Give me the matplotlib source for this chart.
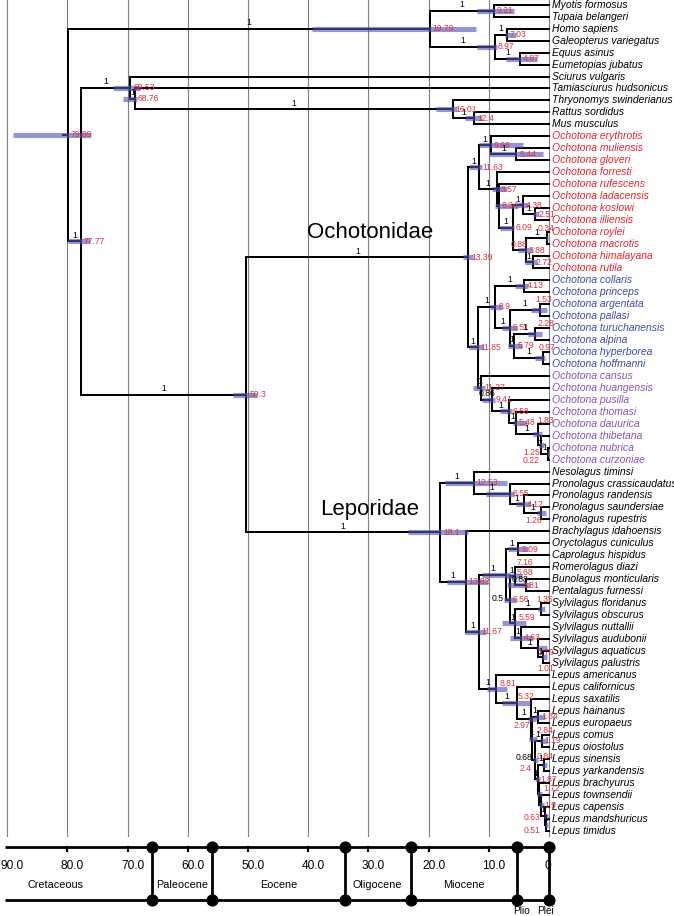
import matplotlib
matplotlib.use("Agg")
import matplotlib.pyplot as plt

plt.rcParams['font.family'] = ['Liberation Sans', 'DejaVu Sans']

# ---------------- data ----------------
tip_names = [
    "Myotis formosus", "Tupaia belangeri", "Homo sapiens", "Galeopterus variegatus",
    "Equus asinus", "Eumetopias jubatus", "Sciurus vulgaris", "Tamiasciurus hudsonicus",
    "Thryonomys swinderianus", "Rattus sordidus", "Mus musculus",
    "Ochotona erythrotis", "Ochotona muliensis", "Ochotona gloveri", "Ochotona forresti",
    "Ochotona rufescens", "Ochotona ladacensis", "Ochotona koslowi", "Ochotona illiensis",
    "Ochotona roylei", "Ochotona macrotis", "Ochotona himalayana", "Ochotona rutila",
    "Ochotona collaris", "Ochotona princeps", "Ochotona argentata", "Ochotona pallasi",
    "Ochotona turuchanensis", "Ochotona alpina", "Ochotona hyperborea", "Ochotona hoffmanni",
    "Ochotona cansus", "Ochotona huangensis", "Ochotona pusilla", "Ochotona thomasi",
    "Ochotona dauurica", "Ochotona thibetana", "Ochotona nubrica", "Ochotona curzoniae",
    "Nesolagus timinsi", "Pronolagus crassicaudatus", "Pronolagus randensis",
    "Pronolagus saundersiae", "Pronolagus rupestris", "Brachylagus idahoensis",
    "Oryctolagus cuniculus", "Caprolagus hispidus", "Romerolagus diazi",
    "Bunolagus monticularis", "Pentalagus furnessi", "Sylvilagus floridanus",
    "Sylvilagus obscurus", "Sylvilagus nuttallii", "Sylvilagus audubonii",
    "Sylvilagus aquaticus", "Sylvilagus palustris", "Lepus americanus",
    "Lepus californicus", "Lepus saxatilis", "Lepus hainanus", "Lepus europaeus",
    "Lepus comus", "Lepus oiostolus", "Lepus sinensis", "Lepus yarkandensis",
    "Lepus brachyurus", "Lepus townsendii", "Lepus capensis", "Lepus mandshuricus",
    "Lepus timidus",
]
tip_clade = ["out"] * 11 + ["red"] * 12 + ["blue"] * 8 + ["purple"] * 8 + ["lep"] * 31
clade_colors = {"out": "black", "red": "#e8252d", "blue": "#3d4ea6",
                "purple": "#8854b4", "lep": "black"}

node_names = ["root", "A", "C", "D", "E", "F", "B", "G", "H", "I", "J",
              "L", "Och", "K1", "M1", "M3", "M2", "M4", "M5", "M6", "M8", "M7", "M9", "M10",
              "K2", "N1", "N3", "N4", "N11", "N12", "N13", "N14",
              "N2", "N5", "N6", "N7", "N8", "N9", "N10",
              "Lep", "P1", "P3", "P4", "P5", "P2", "Q1", "Q2", "O509", "Z", "O568", "O381",
              "S559", "S135", "S463", "S179", "S101",
              "Q3", "Q4", "Q5", "Q6", "L184", "Q7", "L119", "Q8", "L084", "Q9", "Q10",
              "L063", "L051"]
node_children = [
    ["A", "B"], ["C", "D"], ["Myotis formosus", "Tupaia belangeri"], ["E", "F"],
    ["Homo sapiens", "Galeopterus variegatus"], ["Equus asinus", "Eumetopias jubatus"],
    ["G", "L"], ["Sciurus vulgaris", "H"], ["Tamiasciurus hudsonicus", "I"],
    ["Thryonomys swinderianus", "J"], ["Rattus sordidus", "Mus musculus"],
    ["Och", "Lep"], ["K1", "K2"], ["M1", "M2"], ["Ochotona erythrotis", "M3"],
    ["Ochotona muliensis", "Ochotona gloveri"], ["Ochotona forresti", "M4"],
    ["Ochotona rufescens", "M5"], ["M6", "M7"], ["Ochotona ladacensis", "M8"],
    ["Ochotona koslowi", "Ochotona illiensis"], ["M9", "M10"],
    ["Ochotona roylei", "Ochotona macrotis"], ["Ochotona himalayana", "Ochotona rutila"],
    ["N1", "N2"], ["N3", "N4"], ["Ochotona collaris", "Ochotona princeps"], ["N11", "N12"],
    ["Ochotona argentata", "Ochotona pallasi"], ["N13", "N14"],
    ["Ochotona turuchanensis", "Ochotona alpina"], ["Ochotona hyperborea", "Ochotona hoffmanni"],
    ["Ochotona cansus", "N5"], ["Ochotona huangensis", "N6"], ["Ochotona pusilla", "N7"],
    ["Ochotona thomasi", "N8"], ["Ochotona dauurica", "N9"], ["Ochotona thibetana", "N10"],
    ["Ochotona nubrica", "Ochotona curzoniae"],
    ["P1", "P2"], ["Nesolagus timinsi", "P3"], ["Pronolagus crassicaudatus", "P4"],
    ["Pronolagus randensis", "P5"], ["Pronolagus saundersiae", "Pronolagus rupestris"],
    ["Brachylagus idahoensis", "Q1"], ["Q2", "Q3"], ["O509", "Z"],
    ["Oryctolagus cuniculus", "Caprolagus hispidus"], ["O568", "S559"],
    ["Romerolagus diazi", "O381"], ["Bunolagus monticularis", "Pentalagus furnessi"],
    ["S135", "S463"], ["Sylvilagus floridanus", "Sylvilagus obscurus"],
    ["Sylvilagus nuttallii", "S179"], ["Sylvilagus audubonii", "S101"],
    ["Sylvilagus aquaticus", "Sylvilagus palustris"],
    ["Lepus americanus", "Q4"], ["Lepus californicus", "Q5"], ["Lepus saxatilis", "Q6"],
    ["L184", "Q7"], ["Lepus hainanus", "Lepus europaeus"], ["L119", "Q8"],
    ["Lepus comus", "Lepus oiostolus"], ["L084", "Q9"],
    ["Lepus sinensis", "Lepus yarkandensis"], ["Lepus brachyurus", "Q10"],
    ["Lepus townsendii", "L063"], ["Lepus capensis", "L051"],
    ["Lepus mandshuricus", "Lepus timidus"],
]
node_ages = [79.89, 19.79, 9.21, 8.97, 7.03, 4.87, 77.77, 69.53, 68.76, 16.01, 12.4,
             50.3, 13.39, 11.63, 9.68, 5.44, 8.57, 8.34, 6.0, 4.38, 2.3, 3.88, 0.34, 2.72,
             11.85, 8.9, 4.13, 6.51, 1.53, 5.79, 2.28, 0.97,
             11.27, 9.41, 6.58, 5.48, 1.83, 1.25, 0.22,
             18.1, 12.53, 6.55, 4.12, 1.26, 13.82, 11.67, 7.16, 5.09, 6.56, 5.68, 3.81,
             5.59, 1.35, 4.63, 1.79, 1.01,
             8.81, 5.32, 2.97, 2.84, 1.84, 2.4, 1.19, 1.87, 0.84, 1.72, 1.3, 0.63, 0.51]
node_labels = ["79.89", "19.79", "9.21", "8.97", "7.03", "4.87", "77.77", "69.53", "68.76",
               "16.01", "12.4", "50.3", "13.39", "11.63", "9.68", "5.44", "8.57", "8.34",
               "6.09", "4.38", "2.51", "3.88", "0.34", "2.72",
               "11.85", "8.9", "4.13", "6.51", "1.53", "5.79", "2.28", "0.97",
               "11.27", "9.41", "6.58", "5.48", "1.83", "1.25", "0.22",
               "18.1", "12.53", "6.55", "4.12", "1.26", "13.82", "11.67", "7.16", "5.09",
               "6.56", "5.68", "3.81", "5.59", "1.35", "4.63", "1.79", "1.01",
               "8.81", "5.32", "2.97", "2.84", "1.84", "2.4", "1.19", "1.87", "0.84",
               "1.72", "1.9", "0.63", "0.51"]
node_posterior = [None, "1", "1", "1", "1", "1", "1", "1", "1", "1", "1",
                  "1", "1", "1", "1", "1", "1", None, "1", "1", "1", "0.88", "1", "1",
                  "1", "1", "1", "1", "1", "1", "1", "1",
                  "1", "0.86", "1", "1", "1", "1", "1",
                  "1", "1", "1", "1", "1", "1", "1", "1", "1", "0.5", "1", "0.88",
                  "1", "1", "1", "1", "1",
                  "1", "1", "1", "1", "1", "0.68", "1", "1", "1", "1", "1", "1", "1"]
hpd_low = [89.0, 39.4, 12.0, 12.0, 7.3, 7.1, 79.9, 72.4, 70.8, 18.7, 14.0,
           52.5, 14.3, 13.3, 11.6, 10.0, 9.5, 9.0, 8.1, 5.3, 2.6, 5.1, 0.5, 4.0,
           13.3, 9.8, 5.6, 7.8, 3.0, 6.8, 3.5, 2.3,
           12.6, 11.1, 8.1, 6.0, 2.6, 1.6, 0.4,
           23.4, 17.3, 10.4, 5.5, 2.0, 17.0, 14.0, 11.1, 6.8, 7.5, 7.0, 7.0,
           7.8, 1.8, 6.5, 2.0, 1.2,
           10.3, 7.8, 3.5, 3.3, 2.3, 2.6, 1.5, 2.3, 1.2, 2.0, 1.6, 0.8, 0.7]
hpd_high = [76.1, 12.2, 5.8, 8.6, 5.4, 2.0, 76.2, 67.9, 68.4, 15.3, 11.2,
            48.5, 12.6, 11.1, 4.3, 1.0, 7.0, 5.2, 5.8, 3.5, 1.6, 2.8, 0.1, 2.0,
            11.0, 7.8, 3.5, 5.3, 0.4, 4.5, 1.2, 0.7,
            10.6, 9.0, 6.1, 3.7, 1.2, 0.8, 0.05,
            13.5, 7.0, 5.8, 3.2, 0.5, 10.1, 10.5, 6.5, 3.5, 5.5, 4.5, 3.2,
            3.8, 0.7, 2.7, 0.3, 0.3,
            7.0, 3.2, 2.2, 2.0, 0.6, 1.8, 0.3, 1.5, 0.4, 1.2, 0.9, 0.2, 0.2]

clade_names = ["Ochotonidae", "Leporidae"]

axis_ticks = [90, 80, 70, 60, 50, 40, 30, 20, 10, 0]
axis_tick_labels = ["90.0", "80.0", "70.0", "60.0", "50.0", "40.0", "30.0", "20.0", "10.0", "0"]
epoch_bounds = [66.0, 56.0, 33.9, 23.0, 5.3, 0.0]
epoch_names = ["Cretaceous", "Paleocene", "Eocene", "Oligocene", "Miocene"]
epoch_label_ages = [82.0, 61.0, 44.95, 28.45, 14.15]
short_epochs = ["Plio", "Plei"]
short_epoch_ages = [4.5, 0.5]

# ---------------- layout helpers ----------------
W, H = 674, 916
PX_PER_MY = 6.02
X0 = 549.0          # pixel x of age 0
Y0 = 4.7            # pixel y of first tip
DY = 11.97          # pixel spacing of tips


def yi(py):
    return (py - Y0) / DY


fig = plt.figure(figsize=(W / 100, H / 100), dpi=100)
ax = fig.add_axes([0, 0, 1, 1])
ax.set_xlim(X0 / PX_PER_MY, (X0 - W) / PX_PER_MY)
ax.set_ylim(yi(H), yi(0))
ax.axis("off")

nidx = {n: i for i, n in enumerate(node_names)}
ypos, xpos = {}, {}
for i, n in enumerate(tip_names):
    ypos[n] = float(i)
    xpos[n] = 0.0


def gety(n):
    if n in ypos:
        return ypos[n]
    k = nidx[n]
    ys = [gety(c) for c in node_children[k]]
    ypos[n] = (min(ys) + max(ys)) / 2
    xpos[n] = node_ages[k]
    return ypos[n]


for n in node_names:
    gety(n)

parent_of = {}
for j, ch in enumerate(node_children):
    for c in ch:
        parent_of[c] = j

# grid lines
for t in axis_ticks:
    ax.plot([t, t], [yi(0), yi(836)], color="#808080", lw=0.8, zorder=1)

# branches
BLW = 1.45
for k, n in enumerate(node_names):
    ch = node_children[k]
    ys = [ypos[c] for c in ch]
    ax.plot([node_ages[k]] * 2, [min(ys), max(ys)], color="black", lw=BLW,
            solid_capstyle="projecting", zorder=2)
    for c in ch:
        ax.plot([node_ages[k], xpos[c]], [ypos[c]] * 2, color="black", lw=BLW,
                solid_capstyle="projecting", zorder=2)
ax.plot([node_ages[0] + 0.8, node_ages[0]], [ypos["root"]] * 2, color="black", lw=BLW, zorder=2)

# HPD bars
for k, n in enumerate(node_names):
    ax.plot([hpd_low[k], hpd_high[k]], [ypos[n]] * 2, color=(0.33, 0.33, 0.70), alpha=0.62,
            lw=3.7, solid_capstyle="butt", zorder=3)

# tip labels
for i, n in enumerate(tip_names):
    ax.annotate(n, (0, i), xytext=(2.5, 0), textcoords="offset pixels", ha="left", va="center",
                fontsize=7.5, style="italic", color=clade_colors[tip_clade[i]], zorder=5)

# node age labels (image-pixel shifts: dx, dy downward, alignment)
age_shift = {
    "Q2": (11, -11.6, "left"), "N8": (-1, -14, "left"), "N9": (-1.5, 7.5, "right"),
    "N10": (-7.7, 7.4, "right"), "M9": (-9, -10, "left"), "N11": (-4, -10, "left"),
    "N13": (2, -10, "left"), "N14": (-5, -10, "left"), "P5": (0.6, 7.5, "right"),
    "S135": (-4, -10, "left"), "S179": (-1, 4, "left"), "S101": (-6, 11, "left"),
    "Q5": (-1, 7, "right"), "Q6": (5, -8.5, "left"), "Q7": (-2.6, 8, "right"),
    "L084": (-7, -8, "left"), "Q9": (4.4, -5, "left"), "L063": (-5, 1.4, "right"),
    "L051": (-6, 5.4, "right"), "Q4": (1, -6, "left"), "Q3": (4, -5, "left"),
    "O381": (-3, 0.7, "left"), "O568": (2, -4, "left"), "S559": (3, -6, "left"),
}
AGE_COLOR = "#e0323c"
for k, n in enumerate(node_names):
    dx, dy, ha = age_shift.get(n, (3, 0, "left"))
    ax.annotate(node_labels[k], (node_ages[k], ypos[n]), xytext=(dx, -dy),
                textcoords="offset pixels", ha=ha, va="center", fontsize=6.2,
                color=AGE_COLOR, zorder=6)

# posterior labels on branches
post_shift = {"Z": (-10, -1), "Q7": (-9.7, -3)}
post_red = {"M7"}
for k, n in enumerate(node_names):
    p = node_posterior[k]
    if p is None or n not in parent_of:
        continue
    xm = (node_ages[parent_of[n]] + node_ages[k]) / 2
    col = AGE_COLOR if n in post_red else "black"
    if n in post_shift:
        dx, dy = post_shift[n]
        ax.annotate(p, (xm, ypos[n]), xytext=(dx, -dy), textcoords="offset pixels",
                    ha="center", va="center", fontsize=6.2, color=col, zorder=6)
    else:
        ax.annotate(p, (xm, ypos[n]), xytext=(0, 1.5), textcoords="offset pixels",
                    ha="center", va="bottom", fontsize=6.2, color=col, zorder=6)

# clade names
ax.text((X0 - 370) / PX_PER_MY, yi(232), clade_names[0], fontsize=16, ha="center", va="center")
ax.text((X0 - 370) / PX_PER_MY, yi(510), clade_names[1], fontsize=16, ha="center", va="center")

# ---------------- geological time scale ----------------
TOP, BOT = yi(847), yi(900)
left_age = (X0 - 5) / PX_PER_MY
ax.plot([left_age, 0], [TOP, TOP], color="black", lw=2.0, solid_capstyle="butt", zorder=3)
ax.plot([left_age, 0], [BOT, BOT], color="black", lw=2.0, solid_capstyle="butt", zorder=3)
for b in epoch_bounds:
    ax.plot([b, b], [TOP, BOT], color="black", lw=2.0, zorder=3)
ax.scatter(epoch_bounds, [TOP] * len(epoch_bounds), s=60, color="black", zorder=4)
ax.scatter(epoch_bounds, [BOT] * len(epoch_bounds), s=60, color="black", zorder=4)
for t in axis_ticks[1:-1]:
    ax.plot([t, t], [TOP, yi(850.5)], color="black", lw=1.6, zorder=3)
for t, lab in zip(axis_ticks, axis_tick_labels):
    ax.annotate(lab, (t, yi(866)), xytext=(5 if lab != "0" else -1, 0), textcoords="offset pixels",
                ha="center", va="center", fontsize=8.6)
for a, lab in zip(epoch_label_ages, epoch_names):
    ax.text(a, yi(885), lab, ha="center", va="center", fontsize=7.8)
for a, lab in zip(short_epoch_ages, short_epochs):
    ax.text(a, yi(911), lab, ha="center", va="center", fontsize=7.2)

fig.savefig("out.png", dpi=100)
